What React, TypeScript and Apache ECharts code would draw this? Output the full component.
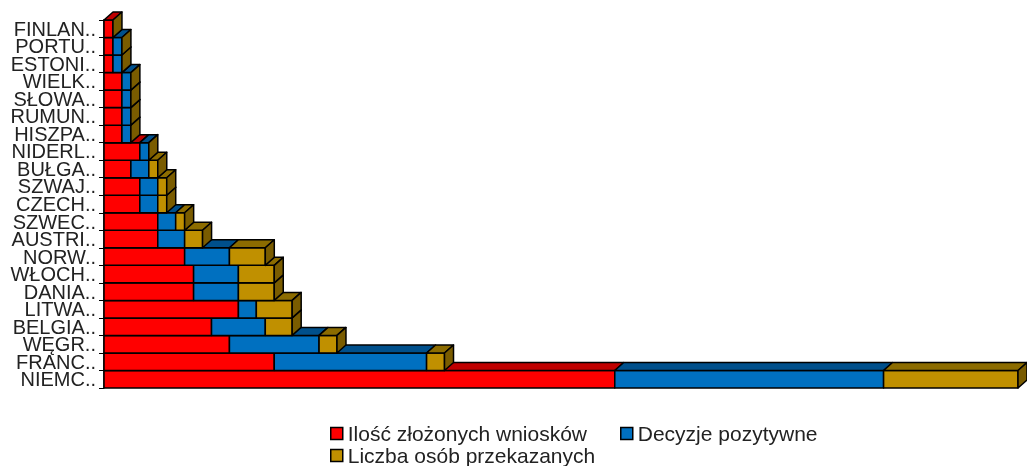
import React, { useEffect, useRef } from "react";
import * as echarts from "echarts";

const categories = [
  "FINLAN..", "PORTU..", "ESTONI..", "WIELK..", "SŁOWA..", "RUMUN..", "HISZPA..",
  "NIDERL..", "BUŁGA..", "SZWAJ..", "CZECH..", "SZWEC..", "AUSTRI..", "NORW..",
  "WŁOCH..", "DANIA..", "LITWA..", "BELGIA..", "WĘGR..", "FRANC..", "NIEMC..",
];
const wnioski = [1, 1, 1, 2, 2, 2, 2, 4, 3, 4, 4, 6, 6, 9, 10, 10, 15, 12, 14, 19, 57];
const decyzje = [0, 1, 1, 1, 1, 1, 1, 1, 2, 2, 2, 2, 3, 5, 5, 5, 2, 6, 10, 17, 30];
const przekazani = [0, 0, 0, 0, 0, 0, 0, 0, 1, 1, 1, 1, 2, 4, 4, 4, 4, 3, 2, 2, 15];

const seriesNames = ["Ilość złożonych wniosków", "Decyzje pozytywne", "Liczba osób przekazanych"];
const seriesValues = [wnioski, decyzje, przekazani];
const frontColors = ["#FF0000", "#0070C0", "#C09000"];
const topColors = ["#C00000", "#00508C", "#8C6C00"];
const sideColor = "#7A5C00";

export default function App() {
  const ref = useRef<HTMLDivElement>(null);
  useEffect(() => {
    if (!ref.current) return;
    const chart = echarts.init(ref.current, undefined, { renderer: "svg" });
    const N = categories.length;
    const DX = 9;
    const DY = 8;

    const series = seriesValues.map((vals, sIdx) => {
      const data = vals.map((v, i) => {
        let start = 0;
        for (let k = 0; k < sIdx; k++) start += seriesValues[k][i];
        return [i, start, start + v];
      });
      return {
        type: "custom",
        name: seriesNames[sIdx],
        itemStyle: { color: frontColors[sIdx], borderColor: "#000", borderWidth: 1 },
        encode: { y: 0, x: [1, 2] },
        data,
        renderItem: (params: any, api: any) => {
          const cat = api.value(0);
          const start = api.value(1);
          const end = api.value(2);
          const p0 = api.coord([start, cat]);
          const p1 = api.coord([end, cat]);
          const band = api.size([0, 1])[1];
          const h = band;
          const yTop = p0[1] - h / 2;
          const yBot = yTop + h;
          const x0 = p0[0];
          const x1 = p1[0];
          const rank = N - 1 - cat;
          const base = rank * 20 + sIdx * 4;
          const stroke = { stroke: "#000", lineWidth: 1.5, lineJoin: "round" };
          const children: any[] = [];
          if (end > start) {
            children.push({
              type: "rect",
              z2: base + 1,
              shape: { x: x0, y: yTop, width: x1 - x0, height: h },
              style: { fill: frontColors[sIdx], ...stroke },
            });
            children.push({
              type: "polygon",
              z2: base + 2,
              shape: {
                points: [
                  [x0, yTop],
                  [x0 + DX, yTop - DY],
                  [x1 + DX, yTop - DY],
                  [x1, yTop],
                ],
              },
              style: { fill: topColors[sIdx], ...stroke },
            });
          }
          if (sIdx === seriesValues.length - 1) {
            children.push({
              type: "polygon",
              z2: base + 3,
              shape: {
                points: [
                  [x1, yTop],
                  [x1 + DX, yTop - DY],
                  [x1 + DX, yBot - DY],
                  [x1, yBot],
                ],
              },
              style: { fill: sideColor, ...stroke },
            });
          }
          return { type: "group", children };
        },
      };
    });

    const legendText = { fontSize: 21, color: "#222", fontFamily: "Arial, Liberation Sans, sans-serif" };
    const legendItem = (i: number) => ({
      name: seriesNames[i],
      icon: "rect",
      itemStyle: { color: frontColors[i], borderColor: "#000", borderWidth: 1.5 },
    });

    chart.setOption({
      animation: false,
      grid: { left: 104, right: 9, top: 20, bottom: 78 },
      xAxis: { type: "value", min: 0, max: 102, show: false },
      yAxis: {
        type: "category",
        inverse: true,
        data: categories,
        axisLine: { show: true, lineStyle: { color: "#000", width: 1.5 } },
        axisTick: { show: true, length: 5, interval: 0, lineStyle: { color: "#000", width: 1 } },
        axisLabel: {
          interval: 0,
          fontSize: 20,
          color: "#222",
          fontFamily: "Arial, Liberation Sans, sans-serif",
          margin: 8,
          lineHeight: 16,
        },
        splitLine: { show: false },
      },
      legend: [
        {
          data: [legendItem(0), legendItem(1)],
          left: 330,
          top: 423,
          padding: 0,
          itemWidth: 12,
          itemHeight: 12,
          itemGap: 33,
          textStyle: legendText,
          selectedMode: false,
        },
        {
          data: [legendItem(2)],
          left: 330,
          top: 445,
          padding: 0,
          itemWidth: 12,
          itemHeight: 12,
          textStyle: legendText,
          selectedMode: false,
        },
      ],
      series,
    });
    return () => chart.dispose();
  }, []);
  return (
    <div
      ref={ref}
      style={{ position: "fixed", left: 0, top: 0, width: 1027, height: 466 }}
    />
  );
}
